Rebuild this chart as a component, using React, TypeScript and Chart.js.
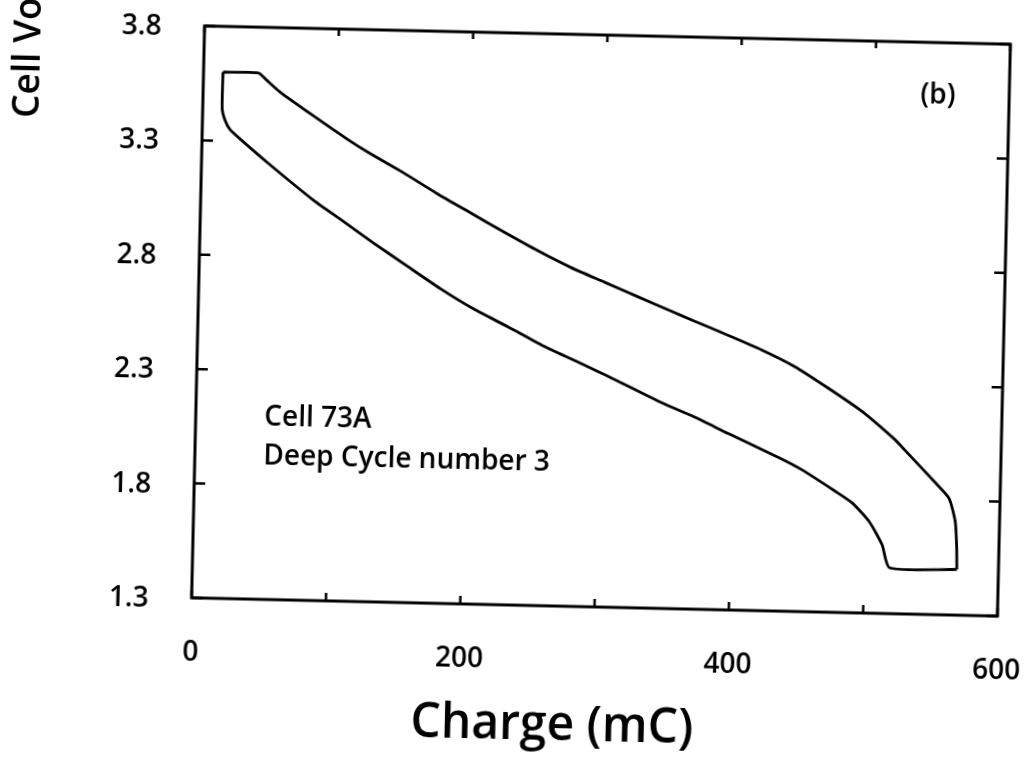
import { useEffect, useRef } from 'react';
import { Chart, registerables } from 'chart.js';

Chart.register(...registerables);

// Upper branch (charge, mC) and cell voltage (V)
const upperCharge = [14.5, 41, 47, 57, 82, 108, 125, 150, 176, 201, 226, 252, 277, 302, 327, 352, 369, 395, 420, 445, 470, 496, 521, 526, 551, 562, 567, 568.5, 569];
const upperVoltage = [3.6, 3.6, 3.57, 3.52, 3.42, 3.32, 3.26, 3.18, 3.09, 3.01, 2.93, 2.85, 2.78, 2.72, 2.66, 2.6, 2.56, 2.5, 2.44, 2.37, 2.28, 2.18, 2.06, 2.03, 1.88, 1.81, 1.71, 1.6, 1.5];

// Lower branch
const lowerCharge = [14.5, 14.5, 16.8, 20.6, 28.3, 48.9, 83.8, 104, 129, 155, 180, 205, 231, 256, 281, 306, 346, 371, 397, 435, 452, 477, 490, 503, 513, 519, 569];
const lowerVoltage = [3.6, 3.44, 3.39, 3.35, 3.31, 3.21, 3.05, 2.97, 2.87, 2.77, 2.675, 2.59, 2.515, 2.44, 2.375, 2.31, 2.2, 2.14, 2.07, 1.97, 1.92, 1.83, 1.78, 1.7, 1.6, 1.5, 1.5];

const xTickValues = [0, 100, 200, 300, 400, 500, 600];
const xLabelValues = [0, 200, 400, 600];
const yTickValues = [1.3, 1.8, 2.3, 2.8, 3.3, 3.8];

const xTitle = 'Charge (mC)';
const yTitle = 'Cell Voltage (V)';
const noteLines = ['Cell 73A', 'Deep Cycle number 3'];
const noteCharge = 51;
const noteVoltages = [2.06, 1.89];
const panelLabel = '(b)';
const panelCharge = 547;
const panelVoltage = 3.57;

const FONT = '"Open Sans", sans-serif';

const framePlugin = {
  id: 'framePlugin',
  afterDraw(chart: any) {
    const ctx = chart.ctx;
    const { left, right, top, bottom } = chart.chartArea;
    const xs = chart.scales.x;
    const ys = chart.scales.y;
    ctx.save();
    ctx.strokeStyle = '#000';
    ctx.lineWidth = 3;
    ctx.lineJoin = 'miter';
    ctx.strokeRect(left, top, right - left, bottom - top);
    ctx.lineWidth = 2.5;
    ctx.beginPath();
    xTickValues.forEach((v) => {
      const px = xs.getPixelForValue(v);
      ctx.moveTo(px, bottom);
      ctx.lineTo(px, bottom - 8);
      ctx.moveTo(px, top);
      ctx.lineTo(px, top + 7);
    });
    yTickValues.forEach((v) => {
      const py = ys.getPixelForValue(v);
      ctx.moveTo(left, py);
      ctx.lineTo(left + 11, py);
      ctx.moveTo(right, py);
      ctx.lineTo(right - 11, py);
    });
    ctx.stroke();

    ctx.fillStyle = '#000';
    // tick labels
    ctx.font = `600 28px ${FONT}`;
    ctx.textAlign = 'center';
    ctx.textBaseline = 'alphabetic';
    xLabelValues.forEach((v) => {
      ctx.fillText(String(v), xs.getPixelForValue(v), bottom + 63);
    });
    ctx.textAlign = 'right';
    yTickValues.forEach((v) => {
      ctx.fillText(v.toFixed(1), left - 43, ys.getPixelForValue(v) + 10);
    });

    // annotation
    ctx.font = `600 28px ${FONT}`;
    ctx.textAlign = 'left';
    ctx.textBaseline = 'alphabetic';
    noteLines.forEach((t, i) => {
      ctx.fillText(t, xs.getPixelForValue(noteCharge), ys.getPixelForValue(noteVoltages[i]));
    });
    ctx.textAlign = 'center';
    ctx.textBaseline = 'middle';
    ctx.fillText(panelLabel, xs.getPixelForValue(panelCharge), ys.getPixelForValue(panelVoltage));

    // axis titles
    ctx.font = `600 48px ${FONT}`;
    ctx.textAlign = 'center';
    ctx.textBaseline = 'middle';
    ctx.fillText(xTitle, left + 363, bottom + 120);

    ctx.save();
    ctx.font = `600 37px ${FONT}`;
    ctx.translate(left - 164, top + 96);
    ctx.rotate(-Math.PI / 2);
    ctx.textAlign = 'left';
    ctx.textBaseline = 'alphabetic';
    ctx.fillText(yTitle, 0, 0);
    ctx.restore();
    ctx.restore();
  },
};

export default function App() {
  const ref = useRef<HTMLCanvasElement | null>(null);

  useEffect(() => {
    if (!ref.current) return;
    const upper = upperCharge.map((x, i) => ({ x, y: upperVoltage[i] }));
    const lower = lowerCharge.map((x, i) => ({ x, y: lowerVoltage[i] }));
    const chart = new Chart(ref.current, {
      type: 'scatter',
      data: {
        datasets: [
          { label: 'Upper', data: upper, showLine: true, borderColor: '#000', borderWidth: 2.8, pointRadius: 0, tension: 0.2, fill: false },
          { label: 'Lower', data: lower, showLine: true, borderColor: '#000', borderWidth: 2.8, pointRadius: 0, tension: 0.2, fill: false },
        ],
      },
      options: {
        animation: false,
        responsive: false,
        layout: { padding: { top: 35, right: 28, left: 0, bottom: 0 } },
        plugins: { legend: { display: false }, tooltip: { enabled: false } },
        scales: {
          x: {
            type: 'linear',
            min: 0,
            max: 600,
            afterBuildTicks: (s: any) => {
              s.ticks = xTickValues.map((v) => ({ value: v }));
            },
            afterFit: (s: any) => {
              s.height = 151;
            },
            grid: { display: false, drawTicks: false },
            border: { display: false },
            ticks: { display: false },
          },
          y: {
            type: 'linear',
            min: 1.3,
            max: 3.8,
            afterBuildTicks: (s: any) => {
              s.ticks = yTickValues.map((v) => ({ value: v }));
            },
            afterFit: (s: any) => {
              s.width = 198;
            },
            grid: { display: false, drawTicks: false },
            border: { display: false },
            ticks: { display: false },
          },
        },
      },
      plugins: [framePlugin],
    });
    return () => chart.destroy();
  }, []);

  return (
    <div style={{ position: 'fixed', left: 0, top: 0, width: 1032, height: 758, overflow: 'hidden', background: '#fff' }}>
      <canvas
        ref={ref}
        width={1032}
        height={758}
        style={{ display: 'block', width: 1032, height: 758, transform: 'rotate(1.3deg)', transformOrigin: '600px 321px' }}
      />
    </div>
  );
}
